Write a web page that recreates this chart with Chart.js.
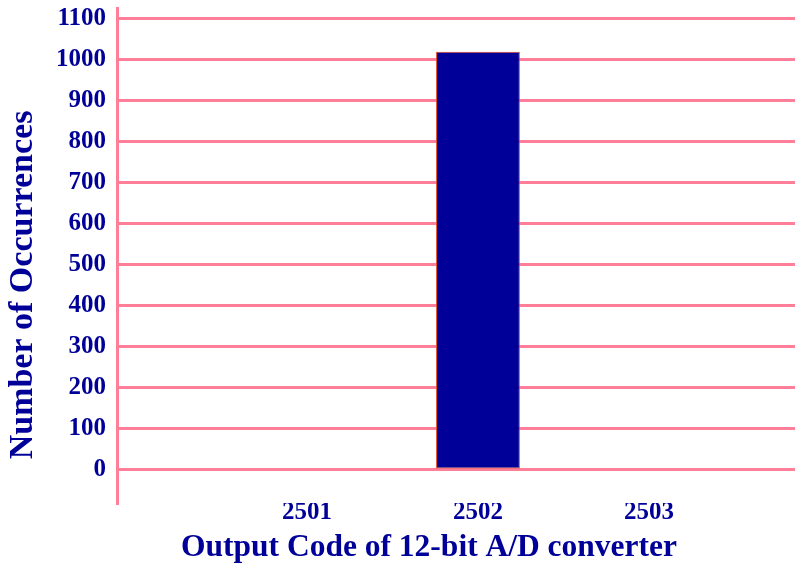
<!DOCTYPE html>
<html>
<head>
<meta charset="utf-8">
<script src="https://cdn.jsdelivr.net/npm/chart.js@4/dist/chart.umd.min.js"></script>
<style>
  html, body { margin: 0; padding: 0; background: #ffffff; }
  #wrap { width: 795px; height: 569px; }
</style>
</head>
<body>
<div id="wrap"><canvas id="c" width="795" height="569"></canvas></div>
<script>
// ---- data ----
const categories = ['2501', '2502', '2503'];
const occurrences = [0, 1020, 0];
const yTicks = [0, 100, 200, 300, 400, 500, 600, 700, 800, 900, 1000, 1100];
const xTitle = 'Output Code of 12-bit A/D converter';
const yTitle = 'Number of Occurrences';

// ---- styles ----
const NAVY = '#000099';
const PINK = '#ff7f99';
const SERIF = "'Liberation Serif', 'Times New Roman', serif";

const titlePlugin = {
  id: 'axisTitles',
  afterDraw(chart) {
    const ctx = chart.ctx;
    ctx.save();
    ctx.fillStyle = NAVY;
    ctx.textAlign = 'center';
    ctx.textBaseline = 'middle';
    ctx.font = 'bold 31.5px ' + SERIF;
    ctx.fillText(xTitle, 429, 548);
    ctx.translate(23, 285);
    ctx.rotate(-Math.PI / 2);
    ctx.font = 'bold 34px ' + SERIF;
    ctx.fillText(yTitle, 0, 0);
    ctx.restore();
  }
};

new Chart(document.getElementById('c'), {
  type: 'bar',
  data: {
    datasets: [{
      data: categories.map((c, i) => ({ x: Number(c), y: occurrences[i] })),
      backgroundColor: NAVY,
      borderColor: '#e0401a',
      borderWidth: ctx => (ctx.raw && ctx.raw.y > 0 ? 1 : 0),
      borderSkipped: false,
      barPercentage: 0.49,
      categoryPercentage: 1
    }]
  },
  options: {
    responsive: false,
    animation: false,
    layout: { padding: { top: 8, left: 0, right: 0, bottom: 0 } },
    plugins: { legend: { display: false }, tooltip: { enabled: false } },
    scales: {
      x: {
        type: 'linear',
        offset: false,
        min: 2499.889,
        max: 2503.854,
        afterBuildTicks: s => { s.ticks = categories.map(c => ({ value: Number(c) })); },
        afterFit: s => { s.height = 66; s.paddingLeft = 0; s.paddingRight = 0; },
        grid: { display: false, drawTicks: false },
        border: { display: false },
        ticks: {
          padding: -5,
          color: NAVY,
          font: { family: SERIF, size: 25, weight: 'bold' },
          callback: v => String(v)
        }
      },
      y: {
        min: -80.5,
        max: 1126.8,
        afterBuildTicks: s => { s.ticks = yTicks.map(v => ({ value: v })); },
        afterFit: s => { s.width = 117; s.paddingTop = 0; s.paddingBottom = 0; },
        grid: { color: PINK, lineWidth: 3, drawTicks: false },
        border: { display: true, color: PINK, width: 3 },
        ticks: {
          padding: 11,
          color: NAVY,
          font: { family: SERIF, size: 25, weight: 'bold' },
          callback: v => String(v)
        }
      }
    }
  },
  plugins: [titlePlugin]
});
</script>
</body>
</html>
